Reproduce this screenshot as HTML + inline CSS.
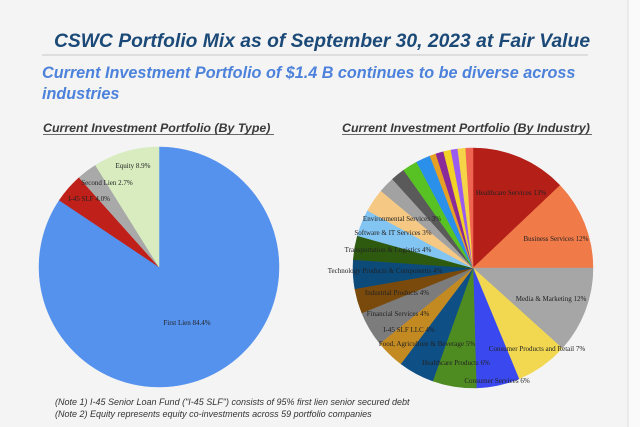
<!DOCTYPE html>
<html><head><meta charset="utf-8"><style>
body{margin:0;width:640px;height:427px;background:#f4f4f4;overflow:hidden}
svg{display:block}
</style></head><body>
<svg id="s" width="640" height="427" xmlns="http://www.w3.org/2000/svg">
<rect x="628" y="0" width="12" height="427" fill="#fafafa"/>
<line x1="628" y1="0" x2="628" y2="427" stroke="#ddd"/>
<text x="322" y="47" text-anchor="middle" font-family="Liberation Sans,sans-serif" font-style="italic" font-weight="bold" font-size="19.3" fill="#1c4a78">CSWC Portfolio Mix as of September 30, 2023 at Fair Value</text>
<line x1="42" y1="55" x2="588" y2="55" stroke="#c8c8c8" stroke-width="1"/>
<text x="42" y="78" font-family="Liberation Sans,sans-serif" font-style="italic" font-weight="bold" font-size="16.2" fill="#4d82dc">Current Investment Portfolio of $1.4 B continues to be diverse across</text>
<text x="42" y="99" font-family="Liberation Sans,sans-serif" font-style="italic" font-weight="bold" font-size="16.2" fill="#4d82dc">industries</text>
<text x="43" y="132" font-family="Liberation Sans,sans-serif" font-style="italic" font-weight="bold" font-size="12.4" fill="#3a3a3a">Current Investment Portfolio (By Type)</text>
<text x="342" y="132" font-family="Liberation Sans,sans-serif" font-style="italic" font-weight="bold" font-size="12.4" fill="#3a3a3a">Current Investment Portfolio (By Industry)</text>
<line x1="43" y1="134.5" x2="274" y2="134.5" stroke="#3a3a3a" stroke-width="0.8"/>
<line x1="342" y1="134.5" x2="592" y2="134.5" stroke="#3a3a3a" stroke-width="0.8"/>
<g id="p1"></g><g id="p2"></g>
<g font-family="Liberation Serif,serif" font-size="7" fill="#222" text-anchor="middle">
<text x="133" y="168">Equity 8.9%</text>
<text x="107" y="185">Second Lien 2.7%</text>
<text x="89" y="201">I-45 SLF 4.0%</text>
<text x="187" y="325">First Lien 84.4%</text>
<text x="511" y="195">Healthcare Services 13%</text>
<text x="556" y="241">Business Services 12%</text>
<text x="551" y="301">Media &amp; Marketing 12%</text>
<text x="537" y="351">Consumer Products and Retail 7%</text>
<text x="497" y="383">Consumer Services 6%</text>
<text x="456" y="365">Healthcare Products 6%</text>
<text x="427" y="346">Food, Agriculture &amp; Beverage 5%</text>
<text x="409" y="332">I-45 SLF LLC 4%</text>
<text x="398" y="316">Financial Services 4%</text>
<text x="397" y="295">Industrial Products 4%</text>
<text x="385" y="273">Technology Products &amp; Components 4%</text>
<text x="388" y="252">Transportation &amp; Logistics 4%</text>
<text x="393" y="235">Software &amp; IT Services 3%</text>
<text x="402" y="221">Environmental Services 3%</text>
</g>
<g font-family="Liberation Sans,sans-serif" font-style="italic" font-size="9" fill="#333">
<text x="55" y="405">(Note 1) I-45 Senior Loan Fund ("I-45 SLF") consists of 95% first lien senior secured debt</text>
<text x="55" y="417">(Note 2) Equity represents equity co-investments across 59 portfolio companies</text>
</g>
</svg>
<script>
function pie(id,cx,cy,r,segs){
 var g=document.getElementById(id),a0=0,h='';
 segs.forEach(function(s){
  var a1=s[0];
  var r0=(a0-90)*Math.PI/180,r1=(a1-90)*Math.PI/180;
  var x0=cx+r*Math.cos(r0),y0=cy+r*Math.sin(r0),x1=cx+r*Math.cos(r1),y1=cy+r*Math.sin(r1);
  h+='<path d="M'+cx+','+cy+'L'+x0+','+y0+'A'+r+','+r+' 0 '+((a1-a0)>180?1:0)+' 1 '+x1+','+y1+'Z" fill="'+s[1]+'" stroke="'+s[1]+'" stroke-width="0.5"/>';
  a0=a1;
 });
 g.innerHTML=h;
}
pie('p1',159,267,120,[[303.8,'#5592ee'],[318.2,'#c0201a'],[328,'#a9a9a9'],[360,'#d8ecbf']]);
pie('p2',473,268,120,[[46.5,'#b41f18'],[90,'#f07a48'],[132,'#a6a6a6'],[157.5,'#f2d850'],[178.4,'#3a48f0'],[199.6,'#4e8c22'],[217,'#0e4f86'],[231,'#c48a22'],[248,'#7c7c7c'],[260,'#7a4a0c'],[274,'#0c4a7a'],[285.6,'#2e5a10'],[298.6,'#82c4f2'],[310,'#f5c884'],[317.8,'#a2a2a2'],[324.7,'#5a5a5a'],[332,'#58c224'],[339,'#2a90ea'],[342,'#e8a024'],[345.8,'#8a2a9a'],[349.4,'#f2d224'],[352.7,'#9a5cf0'],[356.5,'#f5d448'],[360,'#f06452']]);
</script>
</body></html>
